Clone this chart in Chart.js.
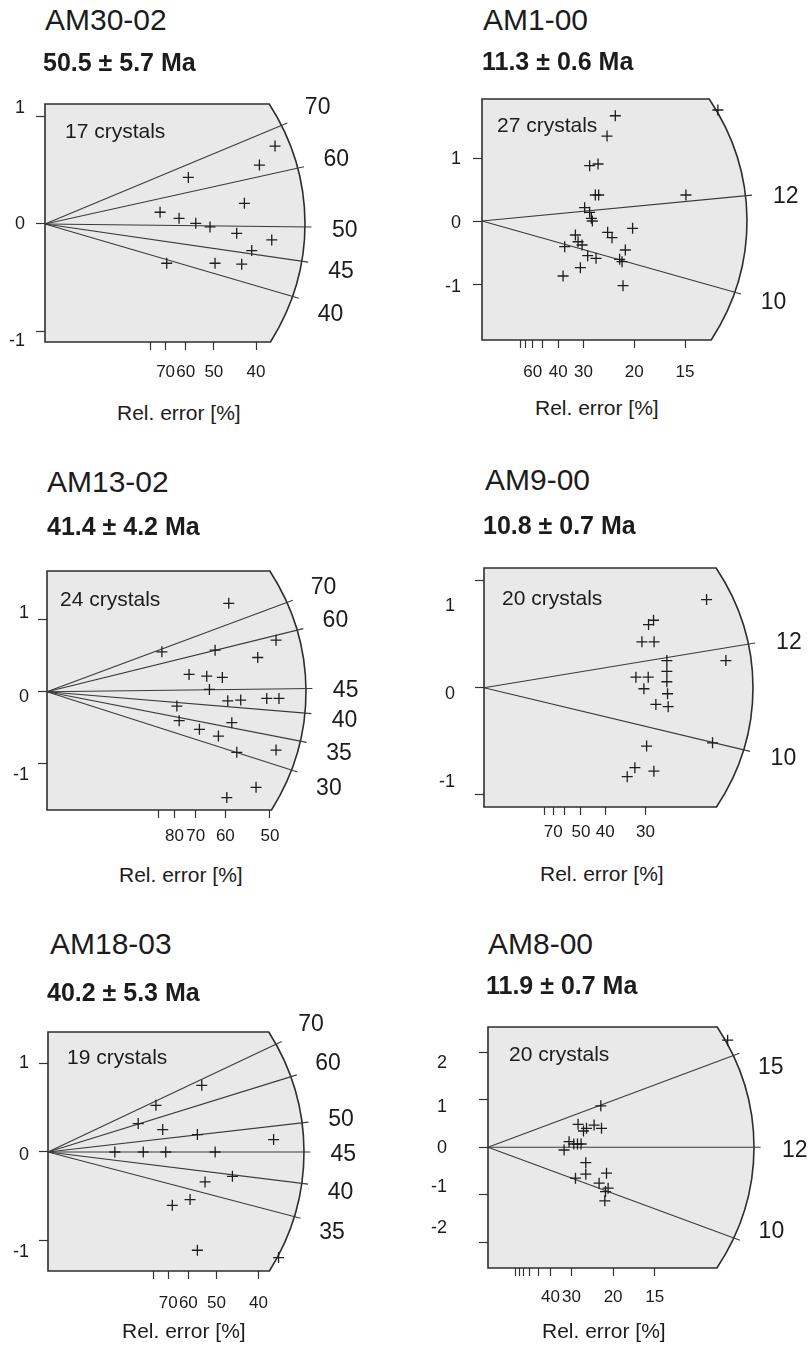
<!DOCTYPE html>
<html>
<head>
<meta charset="utf-8">
<script src="https://cdn.jsdelivr.net/npm/chart.js@4.4.1/dist/chart.umd.min.js"></script>
<style>
  body{margin:0;background:#fff;width:809px;height:1352px;position:relative;overflow:hidden;
       font-family:"Liberation Sans",Arial,sans-serif;color:#1c1c1c}
  .t{position:absolute;white-space:nowrap;line-height:1}
  canvas{position:absolute}
</style>
</head>
<body>
<script>
// radial plots, six samples. x = precision (100 / rel. error %), y = standardised estimate

// AM30-02
const p1X = [2.725, 2.540, 1.698, 2.362, 1.363, 1.588, 1.786, 1.955, 2.271, 2.686, 2.449, 1.442, 2.014, 2.330];
const p1Y = [0.726, 0.549, 0.434, 0.192, 0.109, 0.053, 0.006, -0.028, -0.087, -0.149, -0.248, -0.366, -0.366, -0.375];
const p1Ages = [70, 60, 50, 45, 40];
const p1Slopes = [0.328, 0.174, -0.009, -0.114, -0.230];
const p1XTickErr = [80, 70, 60, 50, 40];
const p1XTickText = ['', '70', '60', '50', '40'];
const p1YTicks = [-1, 0, 1];
const p1YLabelPos = [-1.087, 0, 1.085];
const p1YLabelText = ['-1', '0', '1'];

// AM1-00
const p2X = [7.744, 4.377, 4.105, 3.534, 3.810, 3.721, 3.830, 6.695, 3.370, 3.534, 3.590, 3.623, 4.125, 4.269,
             4.944, 3.066, 3.154, 3.285, 2.715, 4.705, 3.469, 3.744, 4.518, 4.597, 3.230, 2.662, 4.630];
const p2Y = [1.762, 1.671, 1.349, 0.878, 0.905, 0.413, 0.413, 0.413, 0.211, 0.138, 0.043, 0.0, -0.179, -0.265,
             -0.116, -0.222, -0.329, -0.381, -0.408, -0.460, -0.551, -0.592, -0.608, -0.646, -0.741, -0.873, -1.027];
const p2Ages = [12, 10];
const p2Slopes = [0.0463, -0.1364];
const p2XTickErr = [80, 70, 60, 50, 40, 30, 20, 15];
const p2XTickText = ['', '', '60', '', '40', '30', '20', '15'];
const p2YTicks = [-1, 0, 1];
const p2YLabelPos = [-1.052, -0.027, 0.979];
const p2YLabelText = ['-1', '0', '1'];

// AM13-02
const p3X = [2.038, 2.568, 1.288, 1.885, 2.363, 1.593, 1.791, 1.966, 1.821, 2.027, 2.172, 2.464, 2.601, 1.456,
             1.482, 2.072, 1.709, 1.922, 2.128, 2.568, 2.344, 2.016];
const p3Y = [1.228, 0.716, 0.555, 0.578, 0.476, 0.241, 0.217, 0.199, 0.033, -0.125, -0.115, -0.092, -0.092, -0.198,
             -0.401, -0.429, -0.521, -0.615, -0.840, -0.808, -1.325, -1.468];
const p3Ages = [70, 60, 45, 40, 35, 30];
const p3Slopes = [0.461, 0.305, 0.0155, -0.102, -0.241, -0.396];
const p3XTickErr = [80, 70, 60, 50, 40];
const p3XTickText = ['', '80', '70', '60', '50'];
const p3YTicks = [-1, 0, 1];
const p3YLabelPos = [-1.154, -0.078, 1.086];
const p3YLabelText = ['-1', '0', '1'];

// AM9-00
const p4X = [4.592, 3.498, 3.395, 3.258, 3.509, 3.773, 3.773, 3.773, 4.990, 3.134, 3.388, 3.299, 3.787, 3.546,
             3.800, 4.715, 3.355, 3.113, 3.505, 2.955];
const p4Y = [0.824, 0.631, 0.590, 0.429, 0.429, 0.254, 0.154, 0.056, 0.254, 0.099, 0.099, -0.009, -0.056, -0.156,
             -0.177, -0.514, -0.545, -0.747, -0.779, -0.831];
const p4Ages = [12, 10];
const p4Slopes = [0.0747, -0.1082];
const p4XTickErr = [80, 70, 60, 50, 40, 30];
const p4XTickText = ['', '70', '', '50', '40', '30'];
const p4YTicks = [-1, 0, 1];
const p4YLabelPos = [-0.883, -0.0625, 0.761];
const p4YLabelText = ['-1', '0', '1'];

// AM18-03
const p5X = [1.826, 1.282, 1.071, 1.362, 1.774, 2.679, 0.794, 1.131, 1.398, 1.985, 2.190, 1.865, 1.687, 1.476, 1.774, 2.738];
const p5Y = [0.752, 0.526, 0.320, 0.253, 0.196, 0.140, 0, 0, 0, 0, -0.274, -0.338, -0.537, -0.601, -1.108, -1.191];
const p5Ages = [70, 60, 50, 45, 40, 35];
const p5Slopes = [0.4486, 0.2942, 0.1089, 0, -0.1173, -0.249];
const p5XTickErr = [80, 70, 60, 50, 40];
const p5XTickText = ['', '70', '60', '50', '40'];
const p5YTicks = [-1, 0, 1];
const p5YLabelPos = [-1.127, -0.037, 1.0];
const p5YLabelText = ['-1', '0', '1'];

// AM8-00
const p6X = [4.508, 3.600, 3.816, 3.936, 4.240, 4.536, 3.040, 3.240, 3.428, 3.576, 3.720, 3.908, 3.908, 4.736,
             3.496, 4.440, 4.800, 4.696, 4.668, 9.576];
const p6Y = [0.872, 0.482, 0.342, 0.398, 0.467, 0.398, -0.057, 0.117, 0.069, 0.069, 0.069, -0.323, -0.566, -0.545,
             -0.650, -0.755, -0.860, -0.931, -1.126, 2.252];
const p6Ages = [15, 12, 10];
const p6Slopes = [0.1965, 0, -0.194];
const p6XTickErr = [90, 80, 70, 60, 50, 40, 30, 20, 15];
const p6XTickText = ['', '', '', '', '', '40', '30', '20', '15'];
const p6YTicks = [-2, -1, 0, 1, 2];
const p6YLabelPos = [-1.698, -0.826, -0.021, 0.851, 1.761];
const p6YLabelText = ['-2', '-1', '0', '1', '2'];

const panelNames = ['AM30-02', 'AM1-00', 'AM13-02', 'AM9-00', 'AM18-03', 'AM8-00'];
const panelAges = ['50.5 ± 5.7 Ma', '11.3 ± 0.6 Ma', '41.4 ± 4.2 Ma', '10.8 ± 0.7 Ma', '40.2 ± 5.3 Ma', '11.9 ± 0.7 Ma'];
const crystalCounts = [17, 27, 24, 20, 19, 20];
const xMax = [3.08, 8.70, 2.904, 5.55, 3.04, 10.63];
const yMin = [-1.10, -1.889, -1.64, -1.114, -1.342, -2.537];
const yMax = [1.118, 1.937, 1.676, 1.119, 1.353, 2.528];

const panelData = [
  {x: p1X, y: p1Y, ages: p1Ages, slopes: p1Slopes, xErr: p1XTickErr, xText: p1XTickText, yTicks: p1YTicks, yPos: p1YLabelPos, yText: p1YLabelText},
  {x: p2X, y: p2Y, ages: p2Ages, slopes: p2Slopes, xErr: p2XTickErr, xText: p2XTickText, yTicks: p2YTicks, yPos: p2YLabelPos, yText: p2YLabelText},
  {x: p3X, y: p3Y, ages: p3Ages, slopes: p3Slopes, xErr: p3XTickErr, xText: p3XTickText, yTicks: p3YTicks, yPos: p3YLabelPos, yText: p3YLabelText},
  {x: p4X, y: p4Y, ages: p4Ages, slopes: p4Slopes, xErr: p4XTickErr, xText: p4XTickText, yTicks: p4YTicks, yPos: p4YLabelPos, yText: p4YLabelText},
  {x: p5X, y: p5Y, ages: p5Ages, slopes: p5Slopes, xErr: p5XTickErr, xText: p5XTickText, yTicks: p5YTicks, yPos: p5YLabelPos, yText: p5YLabelText},
  {x: p6X, y: p6Y, ages: p6Ages, slopes: p6Slopes, xErr: p6XTickErr, xText: p6XTickText, yTicks: p6YTicks, yPos: p6YLabelPos, yText: p6YLabelText}
];

// page layout (px): plot box [left, top, width, height], text spots [x, centre y]
const layout = [
  {box: [45, 104, 260, 238],   title: [45, 20],   age: [43, 62],   n: [65, 130],   rel: [117, 412],  yPad: 11, xPad: 12, labY: 1.18},
  {box: [482, 99, 265, 241],   title: [483, 20],  age: [482, 61],  n: [497, 124],  rel: [535, 407],  yPad: 12, xPad: 14, labY: 1.075},
  {box: [47, 571, 259, 239],   title: [47, 482],  age: [47, 526],  n: [60, 598],   rel: [119, 874],  yPad: 9,  xPad: 8,  labY: 1.17},
  {box: [484, 568, 269, 239],  title: [485, 480], age: [483, 525], n: [502, 597],  rel: [540, 873],  yPad: 20, xPad: 7,  labY: 1.07},
  {box: [48, 1032, 256, 239],  title: [50, 944],  age: [47, 992],  n: [67, 1056],  rel: [122, 1330], yPad: 10, xPad: 14, labY: 1.18},
  {box: [488, 1027, 266, 241], title: [488, 944], age: [486, 985], n: [509, 1053], rel: [542, 1330], yPad: 32, xPad: 11, labY: 0.88}
];

const FONT = '"Liberation Sans", Arial, sans-serif';
const Y_W = 60, PAD_T = 50, PAD_R = 75, X_H = 50, ARC_B = 237;

function addText(txt, x, cy, size, weight) {
  const el = document.createElement('div');
  el.className = 't';
  el.textContent = txt;
  el.style.left = x + 'px';
  el.style.top = (cy - size * 0.5) + 'px';
  el.style.fontSize = size + 'px';
  el.style.fontWeight = weight || 400;
  document.body.appendChild(el);
}

// grey frame with the curved right edge, and the age labels at the ends of the radial lines
const radialFrame = {
  id: 'radialFrame',
  beforeDatasetsDraw(chart) {
    const {ctx, chartArea: a, scales: {x, y}} = chart;
    const ox = x.getPixelForValue(0), oy = y.getPixelForValue(0);
    const ra = x.getPixelForValue(x.max) - ox;
    const tt = Math.asin(Math.min(1, (oy - a.top) / ARC_B));
    const tb = Math.asin(Math.min(1, (a.bottom - oy) / ARC_B));
    ctx.save();
    ctx.beginPath();
    ctx.moveTo(a.left, a.top);
    ctx.lineTo(ox + ra * Math.cos(tt), a.top);
    ctx.ellipse(ox, oy, ra, ARC_B, 0, -tt, tb);
    ctx.lineTo(a.left, a.bottom);
    ctx.closePath();
    ctx.fillStyle = '#e9e9e9';
    ctx.fill();
    ctx.lineWidth = 1.6;
    ctx.strokeStyle = '#2e2e2e';
    ctx.stroke();
    ctx.restore();
  },
  afterDatasetsDraw(chart, args, opts) {
    const {ctx, scales: {x, y}} = chart;
    const ox = x.getPixelForValue(0), oy = y.getPixelForValue(0);
    ctx.save();
    ctx.font = '23px ' + FONT;
    ctx.fillStyle = '#1c1c1c';
    ctx.textAlign = 'center';
    ctx.textBaseline = 'middle';
    chart.data.datasets.forEach((ds, k) => {
      if (ds.ageLabel === undefined) return;
      const end = chart.getDatasetMeta(k).data[1];
      ctx.fillText(ds.ageLabel, ox + (end.x - ox) * 1.125, oy + (end.y - oy) * opts.labY + 3);
    });
    ctx.restore();
  }
};

function makePanel(i) {
  const d = panelData[i], L = layout[i];
  const [bx, by, bw, bh] = L.box;

  addText(panelNames[i], L.title[0], L.title[1], 30);
  addText(panelAges[i], L.age[0], L.age[1], 25, 700);
  addText(crystalCounts[i] + ' crystals', L.n[0], L.n[1], 21);
  addText('Rel. error [%]', L.rel[0], L.rel[1], 21);

  const cv = document.createElement('canvas');
  cv.width = Y_W + bw + PAD_R;
  cv.height = PAD_T + bh + X_H;
  cv.style.left = (bx - Y_W) + 'px';
  cv.style.top = (by - PAD_T) + 'px';
  document.body.insertBefore(cv, document.body.firstChild);

  // the arc is an ellipse: x half-axis = xMax, y half-axis = ARC_B px in data units
  const ky = bh / (yMax[i] - yMin[i]);
  const arcX = xMax[i], arcY = ARC_B / ky;

  const pts = d.x.map((v, k) => ({x: v, y: d.y[k]}));
  const datasets = [{
    data: pts, pointStyle: 'cross', pointRadius: 5.5, pointHoverRadius: 5.5,
    borderColor: '#1e1e1e', borderWidth: 1.3, backgroundColor: 'transparent', clip: false
  }];
  d.ages.forEach((age, k) => {
    const s = d.slopes[k];
    const xe = 1.025 / Math.sqrt(1 / (arcX * arcX) + s * s / (arcY * arcY));
    datasets.push({
      data: [{x: 0, y: 0}, {x: xe, y: s * xe}], showLine: true, pointRadius: 0,
      borderColor: '#3a3a3a', borderWidth: 1.1, clip: false, ageLabel: String(age)
    });
  });

  new Chart(cv, {
    type: 'scatter',
    data: {datasets},
    options: {
      responsive: false, animation: false, events: [],
      layout: {padding: {left: 0, top: PAD_T, right: PAD_R, bottom: 0}},
      plugins: {legend: {display: false}, tooltip: {enabled: false}, radialFrame: {labY: L.labY}},
      scales: {
        x: {
          type: 'linear', min: 0, max: xMax[i],
          afterBuildTicks: sc => { sc.ticks = d.xErr.map(e => ({value: 100 / e})); },
          afterFit: sc => { sc.height = X_H; },
          ticks: {autoSkip: false, maxRotation: 0, minRotation: 0, padding: L.xPad, color: '#1c1c1c',
                  font: {family: FONT, size: 17}, callback: (v, k) => d.xText[k]},
          grid: {drawOnChartArea: false, drawTicks: true, tickLength: 8, tickWidth: 1.2, tickColor: '#333'},
          border: {display: false}
        },
        y: {
          type: 'linear', min: yMin[i], max: yMax[i],
          afterBuildTicks: sc => {
            const t = d.yTicks.map(v => ({value: v, mark: true, text: ''}));
            d.yPos.forEach((v, k) => t.push({value: v, mark: false, text: d.yText[k]}));
            t.sort((a, b) => a.value - b.value);
            sc.ticks = t;
          },
          afterFit: sc => { sc.width = Y_W; },
          ticks: {autoSkip: false, padding: L.yPad, color: '#1c1c1c', font: {family: FONT, size: 18},
                  callback: (v, k, ts) => ts[k].text},
          grid: {drawOnChartArea: false, drawTicks: true, tickLength: 9, tickWidth: 1.2,
                 tickColor: c => (c.tick && c.tick.mark) ? '#333' : 'rgba(0,0,0,0)'},
          border: {display: false}
        }
      }
    },
    plugins: [radialFrame]
  });
}

for (let i = 0; i < 6; i++) makePanel(i);
</script>
</body>
</html>
